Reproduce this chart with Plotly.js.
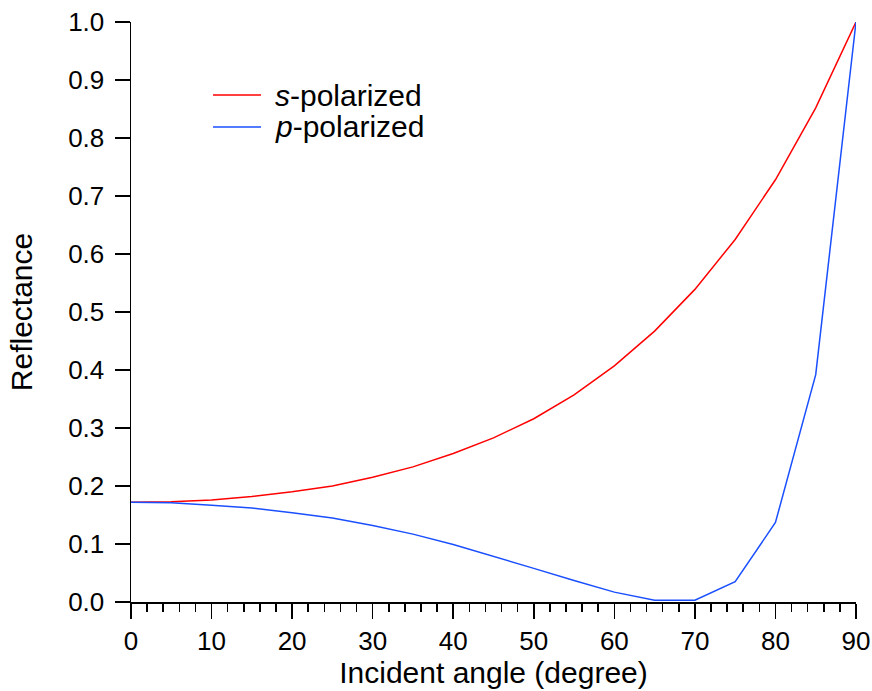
<!DOCTYPE html>
<html>
<head>
<meta charset="utf-8">
<script src="https://cdn.plot.ly/plotly-3.0.1.min.js"></script>
<style>html,body{margin:0;padding:0;background:#fff;}#chart{width:872px;height:691px;}</style>
</head>
<body>
<div id="chart"></div>
<script>
var angles = [0, 5, 10, 15, 20, 25, 30, 35, 40, 45, 50, 55, 60, 65, 70, 75, 80, 85, 90];
var sPolarized = [0.172, 0.173, 0.176, 0.182, 0.190, 0.200, 0.215, 0.233, 0.256, 0.283, 0.316, 0.357, 0.407, 0.467, 0.539, 0.625, 0.728, 0.852, 1.0];
var pPolarized = [0.172, 0.171, 0.167, 0.162, 0.154, 0.145, 0.132, 0.117, 0.099, 0.079, 0.058, 0.037, 0.017, 0.003, 0.003, 0.035, 0.137, 0.392, 1.0];
var seriesNames = ['<i>s</i>-polarized', '<i>p</i>-polarized'];
var seriesColors = ['#ff0000', '#1a4fff'];
var xTitle = 'Incident angle (degree)';
var yTitle = 'Reflectance';

var fam = 'Liberation Sans, Arial, sans-serif';
var tickFont = {family: fam, size: 26, color: '#000'};
var titleFont = {family: fam, size: 30, color: '#000'};

var traces = [
  {x: angles, y: sPolarized, name: seriesNames[0], mode: 'lines', line: {color: seriesColors[0], width: 1.5}},
  {x: angles, y: pPolarized, name: seriesNames[1], mode: 'lines', line: {color: seriesColors[1], width: 1.5}}
];

// manual legend (paper coordinates)
var legX0 = 0.1131, legX1 = 0.1793, legTextX = 0.1959;
var legY = [0.8741, 0.8190];
var shapes = [], annotations = [];
for (var i = 0; i < seriesNames.length; i++) {
  shapes.push({type: 'line', xref: 'paper', yref: 'paper', x0: legX0, x1: legX1, y0: legY[i], y1: legY[i],
               line: {color: seriesColors[i], width: 1.5}});
  annotations.push({xref: 'paper', yref: 'paper', x: legTextX, y: legY[i], xanchor: 'left', yanchor: 'middle',
                    text: seriesNames[i], showarrow: false, font: titleFont});
}

var layout = {
  width: 872, height: 691,
  margin: {l: 131, r: 16, t: 22, b: 89},
  paper_bgcolor: '#fff', plot_bgcolor: '#fff',
  font: tickFont,
  showlegend: false,
  shapes: shapes,
  annotations: annotations,
  xaxis: {
    range: [0, 90], showgrid: false, zeroline: false,
    showline: true, linecolor: '#000', linewidth: 1.5,
    ticks: 'outside', ticklen: 15, tickwidth: 1.5, tickcolor: '#000',
    dtick: 10, tick0: 0, tickfont: tickFont,
    minor: {dtick: 2, ticks: 'outside', ticklen: 8, tickwidth: 1.5, tickcolor: '#000', showgrid: false},
    title: {text: xTitle, font: titleFont, standoff: 4}
  },
  yaxis: {
    range: [0, 1.0], showgrid: false, zeroline: false,
    showline: true, linecolor: '#000', linewidth: 1.5,
    ticks: 'outside', ticklen: 15, tickwidth: 1.5, tickcolor: '#000',
    ticklabelstandoff: 5,
    dtick: 0.1, tick0: 0, tickformat: '.1f', tickfont: tickFont,
    title: {text: yTitle, font: titleFont, standoff: 26}
  }
};

Plotly.newPlot('chart', traces, layout, {staticPlot: true, displayModeBar: false});
</script>
</body>
</html>
